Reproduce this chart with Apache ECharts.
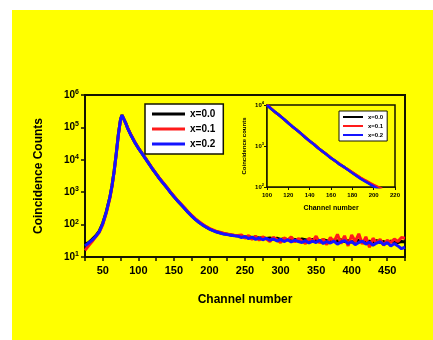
<!DOCTYPE html>
<html>
<head>
<meta charset="utf-8">
<script src="https://cdn.jsdelivr.net/npm/echarts@6/dist/echarts.min.js"></script>
<style>html,body{margin:0;padding:0;background:#fff;}#c{width:433px;height:340px;}</style>
</head>
<body>
<div id="c"></div>
<script>
// ---- data ----
const seriesNames = ['x=0.0', 'x=0.1', 'x=0.2'];
const mainChannels = [25,30,35,40,45,50,55,60,63,66,69,72,75,77,79,82,85,
  90,95,100,105,110,115,120,125,130,135,140,145,150,155,160,165,170,175,180,185,190,195,200,205,210,215,220,225,230,235,240,
  245,250,255,260,265,270,275,280,285,290,295,300,305,310,315,320,325,330,335,340,345,350,355,360,365,370,375,380,385,390,395,400,405,410,415,420,425,430,435,440,445,450,455,460,465,470,475];
const mainBlack = [25,28,35,45,63,112,250,710,1600,4500,16000,63000,178000,240000,224000,141000,95000,
  56000,35000,23000,16000,11000,7600,5200,3700,2600,1900,1400,1000,740,550,420,320,240,186,148,120,100,85,74,66,60,56,52,50,48,46,45,
  44,41,43,39,42,38,40,37,39,36,38,35,37,34,36,35,33,36,34,32,35,33,31,34,32,30,33,31,34,30,32,29,31,33,30,28,31,29,32,28,30,27,31,29,28,30,29];
const mainRed = [16,22,30,42,58,100,230,650,1500,4300,15000,60000,172000,235000,220000,140000,96000,
  57000,36000,23500,16200,11200,7700,5300,3750,2650,1950,1420,1020,760,560,430,330,250,192,152,125,104,88,77,68,62,58,54,51,49,47,46,
  48,38,46,35,44,33,42,36,30,41,34,28,39,33,42,29,37,31,26,38,30,44,27,36,24,40,29,50,26,45,22,48,30,52,25,42,20,38,27,35,23,33,28,36,30,40,38];
const mainBlue = [22,27,33,43,60,108,245,700,1580,4450,15800,62000,176000,238000,222000,139000,94000,
  55000,34500,22800,15800,10900,7500,5150,3650,2580,1880,1380,990,730,545,415,315,238,184,146,118,98,84,73,65,59,55,51,49,47,45,44,
  40,43,37,41,35,39,34,38,33,36,31,35,30,34,29,33,30,28,32,27,31,28,33,26,30,27,31,25,29,32,26,30,24,28,31,25,29,23,27,30,24,28,22,26,22,18,20];
const insetChannels = [100,104,108,112,116,120,124,128,132,136,140,144,148,152,156,160,164,168,172,176,180,184,188,192,196,200,204,208];
const insetBlack = [10000,8100,6600,5500,4470,3630,2950,2450,2000,1620,1320,1100,890,740,620,510,430,360,310,263,224,190,162,141,123,107,93,83];
const insetRed = [10100,8200,6500,5600,4400,3700,2900,2480,1980,1650,1300,1120,900,730,630,520,425,370,305,270,228,195,168,146,128,112,100,90];
const insetBlue = [9900,8000,6650,5450,4500,3600,2970,2420,2010,1600,1330,1090,880,745,615,505,435,355,312,260,220,187,158,137,119,104,90,80];

const colors = ['#000000', '#ff1a1a', '#1414ff'];
const pair = (xs, ys) => xs.map((x, i) => [x, ys[i]]);
const ink = '#141400';
const supFmt = v => '{b|10}{s|' + Math.round(Math.log10(v)) + '}';

const chart = echarts.init(document.getElementById('c'));
const mainSeries = [mainBlack, mainRed, mainBlue].map((d, i) => ({
  name: seriesNames[i], type: 'line', xAxisIndex: 0, yAxisIndex: 0,
  data: pair(mainChannels, d), showSymbol: false, symbol: 'none',
  lineStyle: {color: colors[i], width: 3}, itemStyle: {color: colors[i]}, z: 2 + i
}));
const insetSeries = [insetBlack, insetRed, insetBlue].map((d, i) => ({
  name: seriesNames[i], type: 'line', xAxisIndex: 1, yAxisIndex: 1,
  data: pair(insetChannels, d), showSymbol: false, symbol: 'none',
  lineStyle: {color: colors[i], width: 2.6}, itemStyle: {color: colors[i]}, z: 12 + i
}));

chart.setOption({
  backgroundColor: '#ffffff',
  animation: false,
  graphic: [{type: 'rect', shape: {x: 12, y: 10, width: 421, height: 330}, style: {fill: '#ffff00'}, z: -10, silent: true}],
  grid: [
    {left: 85, right: 28, top: 95, bottom: 83, show: true, borderColor: ink, borderWidth: 2, backgroundColor: 'transparent'},
    {left: 267, top: 105, width: 128, height: 82, show: true, borderColor: ink, borderWidth: 1.5, backgroundColor: '#ffff00', z: 10}
  ],
  legend: [
    {data: seriesNames, orient: 'vertical', left: 145, top: 104, backgroundColor: '#ffffff', borderColor: ink, borderWidth: 1.5,
     padding: [5, 8, 5, 7], itemGap: 5, itemWidth: 33, itemHeight: 3, icon: 'rect',
     textStyle: {fontFamily: 'Liberation Sans', fontWeight: 'bold', fontSize: 10, color: '#000'}, selectedMode: false},
    {data: seriesNames, orient: 'vertical', left: 339, top: 111, backgroundColor: '#ffffff', borderColor: ink, borderWidth: 1,
     padding: [3, 4, 3, 4], itemGap: 3, itemWidth: 20, itemHeight: 2, icon: 'rect', z: 20,
     textStyle: {fontFamily: 'Liberation Sans', fontWeight: 'bold', fontSize: 6, color: '#000'}, selectedMode: false}
  ],
  xAxis: [
    {type: 'value', gridIndex: 0, min: 25, max: 475, interval: 25,
     name: 'Channel number', nameLocation: 'middle', nameGap: 37,
     nameTextStyle: {fontFamily: 'Liberation Sans', fontWeight: 'bold', fontSize: 12, color: '#000'},
     axisLine: {show: true, lineStyle: {color: ink, width: 2}},
     axisTick: {show: true, length: 4, lineStyle: {color: ink, width: 1.5}},
     axisLabel: {fontFamily: 'Liberation Sans', fontWeight: 'bold', fontSize: 11, color: '#000', margin: 8,
       formatter: v => (v % 50 === 0 ? String(v) : '')},
     splitLine: {show: false}},
    {type: 'value', gridIndex: 1, min: 100, max: 220, interval: 20,
     name: 'Channel number', nameLocation: 'middle', nameGap: 18,
     nameTextStyle: {fontFamily: 'Liberation Sans', fontWeight: 'bold', fontSize: 7, color: '#000'},
     axisLine: {show: true, lineStyle: {color: ink, width: 1.5}},
     axisTick: {show: true, length: 3, lineStyle: {color: ink}},
     axisLabel: {fontFamily: 'Liberation Sans', fontWeight: 'bold', fontSize: 6, color: '#000', margin: 5},
     splitLine: {show: false}}
  ],
  yAxis: [
    {type: 'log', logBase: 10, gridIndex: 0, min: 10, max: 1000000,
     name: 'Coincidence Counts', nameLocation: 'middle', nameGap: 40,
     nameTextStyle: {fontFamily: 'Liberation Sans', fontWeight: 'bold', fontSize: 12, color: '#000'},
     axisLine: {show: true, lineStyle: {color: ink, width: 2}},
     axisTick: {show: true, length: 4, lineStyle: {color: ink, width: 1.5}},
     axisLabel: {color: '#000', margin: 6, formatter: supFmt,
       rich: {b: {fontFamily: 'Liberation Sans', fontWeight: 'bold', fontSize: 10, lineHeight: 13, color: '#000'},
              s: {fontFamily: 'Liberation Sans', fontWeight: 'bold', fontSize: 7, lineHeight: 7, verticalAlign: 'top', color: '#000'}}},
     splitLine: {show: false}},
    {type: 'log', logBase: 10, gridIndex: 1, min: 100, max: 10000,
     name: 'Coincidence counts', nameLocation: 'middle', nameGap: 20,
     nameTextStyle: {fontFamily: 'Liberation Sans', fontWeight: 'bold', fontSize: 6, color: '#000'},
     axisLine: {show: true, lineStyle: {color: ink, width: 1.5}},
     axisTick: {show: true, length: 3, lineStyle: {color: ink}},
     axisLabel: {color: '#000', margin: 3, formatter: supFmt,
       rich: {b: {fontFamily: 'Liberation Sans', fontWeight: 'bold', fontSize: 6, lineHeight: 8, color: '#000'},
              s: {fontFamily: 'Liberation Sans', fontWeight: 'bold', fontSize: 4, lineHeight: 4, verticalAlign: 'top', color: '#000'}}},
     splitLine: {show: false}},
  ],
  series: mainSeries.concat(insetSeries)
});
</script>
</body>
</html>
